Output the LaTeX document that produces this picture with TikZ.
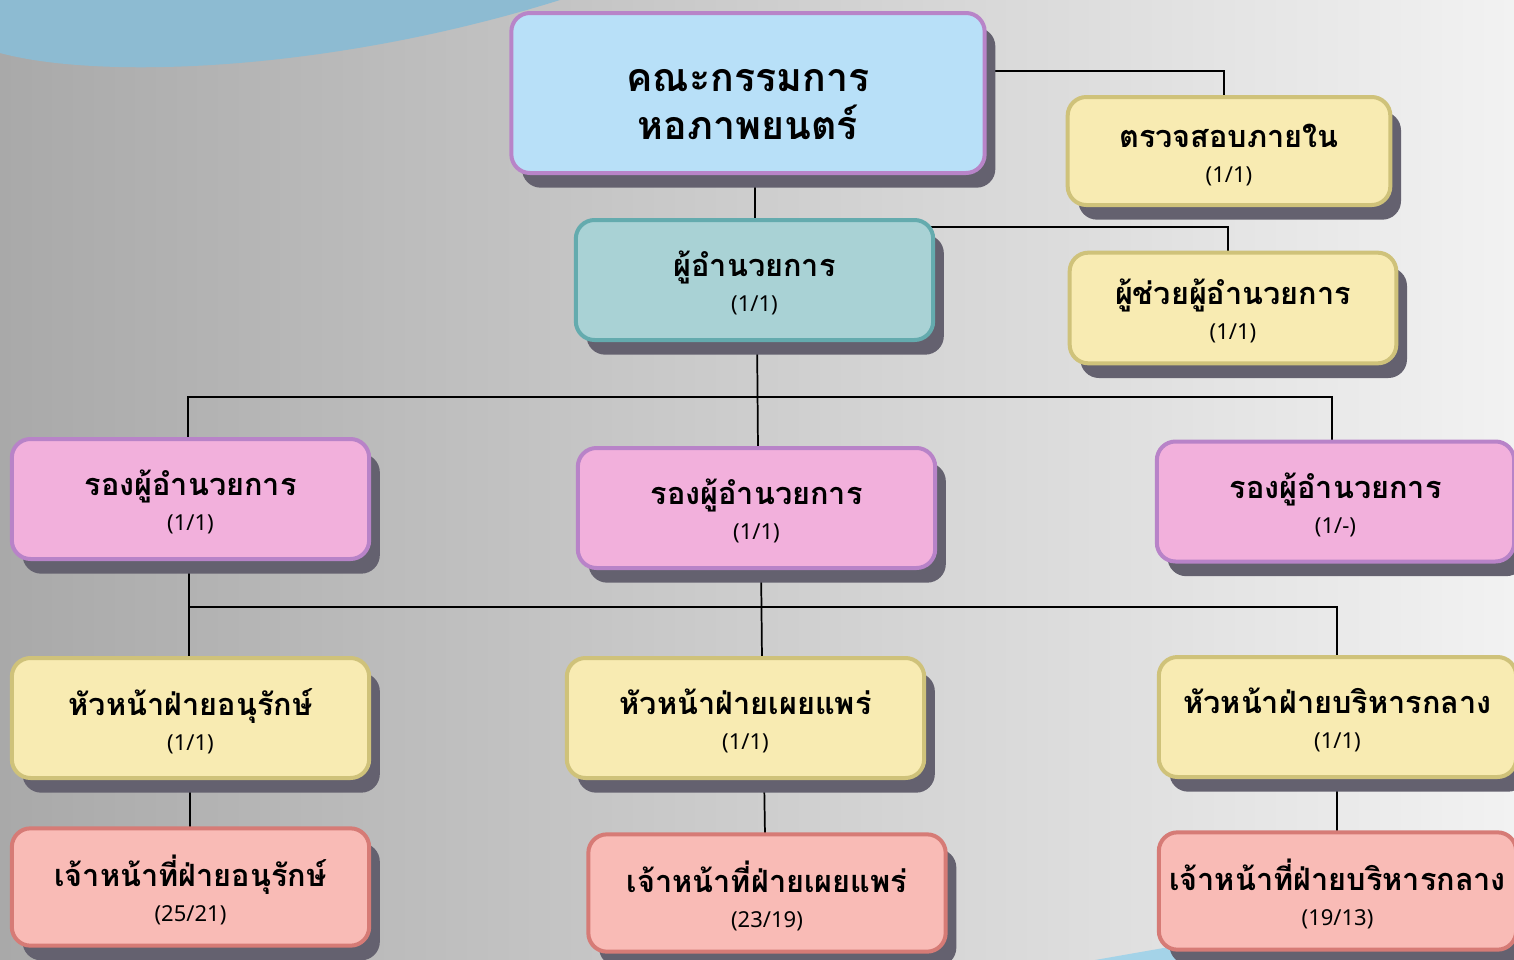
\documentclass[tikz,border=0pt]{standalone}
\usepackage{fontspec}
\setmainfont{Noto Sans}
\newfontfamily\thaifont[Script=Thai]{Loma}
\definecolor{bgleft}{HTML}{A9A9A9}
\definecolor{bgright}{HTML}{F2F2F2}
\definecolor{topblue}{HTML}{8DBBD2}
\definecolor{lowblue}{HTML}{A4D3E8}
\definecolor{shadowcol}{HTML}{64616F}
\definecolor{boardfill}{HTML}{B8E0F8}
\definecolor{boardline}{HTML}{B884C8}
\definecolor{yelfill}{HTML}{F8EBB2}
\definecolor{yelline}{HTML}{CFC27A}
\definecolor{tealfill}{HTML}{A9D2D5}
\definecolor{tealline}{HTML}{64ABAE}
\definecolor{pinkfill}{HTML}{F2B0DC}
\definecolor{pinkline}{HTML}{B883C8}
\definecolor{redfill}{HTML}{F9BBB6}
\definecolor{redline}{HTML}{D67B76}
\tikzset{
	unit/.style={rounded corners=14pt, line width=3pt, inner sep=0pt,
		preaction={draw=none, fill=shadowcol, transform canvas={shift={(8pt,-11pt)}}}},
	boardbox/.style={unit, draw=boardline, fill=boardfill, minimum width=355pt, minimum height=120pt},
	tealbox/.style={unit, draw=tealline, fill=tealfill, minimum width=268pt, minimum height=90pt},
	yelbox/.style={unit, draw=yelline, fill=yelfill, minimum width=268pt, minimum height=90pt},
	pinkbox/.style={unit, draw=pinkline, fill=pinkfill, minimum width=268pt, minimum height=90pt},
	redbox/.style={unit, draw=redline, fill=redfill, minimum width=268pt, minimum height=88pt},
	link/.style={line width=1.3pt, black}
}
% name line and head count line, lowered a little inside the box
\newcommand{\unitname}[2]{\fontsize{23}{26.5}\selectfont
	\raisebox{-5pt}[\height][\depth]{\begin{tabular}{@{}c@{}}
		{\thaifont\bfseries #1}\\
		{\fontsize{16.5}{19}\selectfont #2}
	\end{tabular}}}
\newcommand{\boardname}[2]{\fontsize{29.5}{35}\selectfont
	\raisebox{-10pt}[\height][\depth]{\begin{tabular}{@{}c@{}}
		{\thaifont\bfseries #1}\\
		{\thaifont\bfseries #2}
	\end{tabular}}}
\begin{document}
\begin{tikzpicture}[x=0.75pt, y=-0.75pt]
	\useasboundingbox (0,0) rectangle (1514,960);
	\clip (0,0) rectangle (1514,960);
	% background
	\shade[left color=bgleft, right color=bgright] (0,0) rectangle (1514,960);
	\fill[topblue] (0,0) -- (0,53) .. controls (100,80) and (330,72) .. (560,0) -- cycle;
	\fill[lowblue] (1095,960) -- (1175,946) -- (1200,960) -- cycle;

	% connectors
	\draw[link] (985,71) -| (1224,97);
	\draw[link] (755,150) -- (755,230);
	\draw[link] (930,227) -| (1228,260);
	\draw[link] (757,330) -- (758,450);
	\draw[link] (188,445) |- (1332,397) -- (1332,445);
	\draw[link] (189,550) -- (189,660);
	\draw[link] (189,607) -| (1337,660);
	\draw[link] (761,560) -- (762,660);
	\draw[link] (190,770) -- (190,830);
	\draw[link] (764,770) -- (765,836);
	\draw[link] (1337,770) -- (1337,834);

	% boxes
	\node[boardbox] (board) at (748,93) {\boardname{คณะกรรมการ}{หอภาพยนตร์}};
	\node[yelbox, minimum width=242pt, minimum height=81pt] (audit) at (1229,151) {\unitname{ตรวจสอบภายใน}{(1/1)}};
	\node[tealbox] (director) at (754.5,280) {\unitname{ผู้อำนวยการ}{(1/1)}};
	\node[yelbox, minimum width=245pt, minimum height=83pt] (assist) at (1233,308) {\unitname{ผู้ช่วยผู้อำนวยการ}{(1/1)}};

	\node[pinkbox] (depL) at (190.5,499) {\unitname{รองผู้อำนวยการ}{(1/1)}};
	\node[pinkbox] (depM) at (756.5,508) {\unitname{รองผู้อำนวยการ}{(1/1)}};
	\node[pinkbox] (depR) at (1335.5,501.5) {\unitname{รองผู้อำนวยการ}{(1/-)}};

	\node[yelbox] (headL) at (190.5,718) {\unitname{หัวหน้าฝ่ายอนุรักษ์}{(1/1)}};
	\node[yelbox] (headM) at (745.5,718) {\unitname{หัวหน้าฝ่ายเผยแพร่}{(1/1)}};
	\node[yelbox] (headR) at (1337.5,717) {\unitname{หัวหน้าฝ่ายบริหารกลาง}{(1/1)}};

	\node[redbox] (staffL) at (190.5,887) {\unitname{เจ้าหน้าที่ฝ่ายอนุรักษ์}{(25/21)}};
	\node[redbox] (staffM) at (767,893) {\unitname{เจ้าหน้าที่ฝ่ายเผยแพร่}{(23/19)}};
	\node[redbox] (staffR) at (1337.5,891) {\unitname{เจ้าหน้าที่ฝ่ายบริหารกลาง}{(19/13)}};
\end{tikzpicture}
\end{document}
